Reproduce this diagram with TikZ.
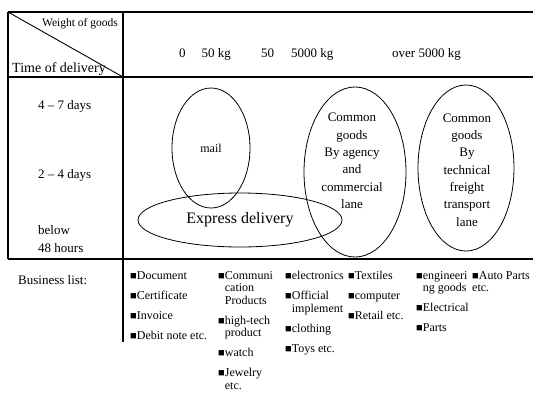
\documentclass[tikz,border=0pt]{standalone}
\usepackage{fontspec}
\setmainfont{Liberation Serif}
\usepackage{tikz}
\usetikzlibrary{shapes.geometric,positioning}
\newcommand{\sq}{{\fontsize{11}{11}\selectfont ■}}
\newcommand{\gap}{\\[7.5pt]}

\begin{document}
\begin{tikzpicture}[
  x=1pt, y=-1pt,
  rule/.style={draw=black, line width=1.8pt},
  thinrule/.style={draw=black, line width=1.1pt},
  oval/.style={draw=black, ellipse, line width=0.8pt, inner sep=0pt},
  head/.style={font=\fontsize{13}{15}\selectfont, inner sep=0pt},
  lane/.style={font=\fontsize{13}{17.3}\selectfont, align=center, inner sep=0pt},
  biz/.style={font=\fontsize{12}{12.5}\selectfont, align=left, anchor=north west, inner sep=0pt}
]
  \useasboundingbox (0,0) rectangle (533,394);

  % table frame
  \coordinate (tl) at (8,12);
  \coordinate (tr) at (533,12);
  \coordinate (hl) at (8,77);
  \coordinate (hr) at (533,77);
  \coordinate (bl) at (8,259);
  \coordinate (br) at (533,259);
  \coordinate (dtop) at (123,12);
  \coordinate (dhead) at (123,77);
  \coordinate (dend) at (123,342);

  \draw[rule] (tl) -- (tr);
  \draw[rule] (hl) -- (hr);
  \draw[rule] (bl) -- (br);
  \draw[thinrule] (tl) -- (bl);
  \draw[thinrule] (dtop) -- (dend);
  \draw[line width=0.9pt] (tl) -- (dhead);

  % header
  \node[head, anchor=east, font=\fontsize{11.5}{13}\selectfont] (weight) at (118,24) {Weight of goods};
  \node[head, anchor=west, font=\fontsize{14}{16}\selectfont] (time) at (12,69) {Time of delivery};
  \node[head, anchor=west] (light) at (179,54) {0\hspace{16pt}50 kg};
  \node[head, anchor=west] (medium) at (261,54) {50\hspace{17pt}5000 kg};
  \node[head, anchor=west] (heavy) at (392,54) {over 5000 kg};

  % delivery times
  \node[head, anchor=west] (week) at (38,106) {4 -- 7 days};
  \node[head, anchor=west] (days) at (38,175) {2 -- 4 days};
  \node[head, anchor=west, align=left, font=\fontsize{13}{18}\selectfont] (hours) at (38,239) {below\\48 hours};

  % service areas
  \node[oval, minimum width=78pt, minimum height=120pt, font=\fontsize{12}{14}\selectfont] (mail) at (211,148) {mail};
  \node[oval, minimum width=204pt, minimum height=54pt, font=\fontsize{16}{18}\selectfont] (express) at (240,220) {Express delivery};
  \node[oval, minimum width=102pt, minimum height=170pt] (agency) at (355,172) {};
  \node[lane] (agencytxt) at (352,161) {Common\\goods\\By agency\\and\\commercial\\lane};
  \node[oval, minimum width=96pt, minimum height=166pt] (freight) at (466,168) {};
  \node[lane] (freighttxt) at (467,170) {Common\\goods\\By\\technical\\freight\\transport\\lane};

  % business list
  \node[head, anchor=west] (bizlist) at (18,280) {Business list:};
  \node[biz] (colA) at (130,271) {\sq Document\gap \sq Certificate\gap \sq Invoice\gap \sq Debit note etc.};
  \node[biz] (colB) at (218,271) {\sq Communi\\\phantom{\sq}cation\\\phantom{\sq}Products\gap \sq high-tech\\\phantom{\sq}product\gap \sq watch\gap \sq Jewelry\\\phantom{\sq}etc.};
  \node[biz] (colC) at (285,271) {\sq electronics\gap \sq Official\\\phantom{\sq}implement\gap \sq clothing\gap \sq Toys etc.};
  \node[biz] (colD) at (348,271) {\sq Textiles\gap \sq computer\gap \sq Retail etc.};
  \node[biz] (colE) at (416,271) {\sq engineeri\\\phantom{\sq}ng goods\gap \sq Electrical\gap \sq Parts};
  \node[biz] (colF) at (472,271) {\sq Auto Parts\\etc.};
\end{tikzpicture}
\end{document}
